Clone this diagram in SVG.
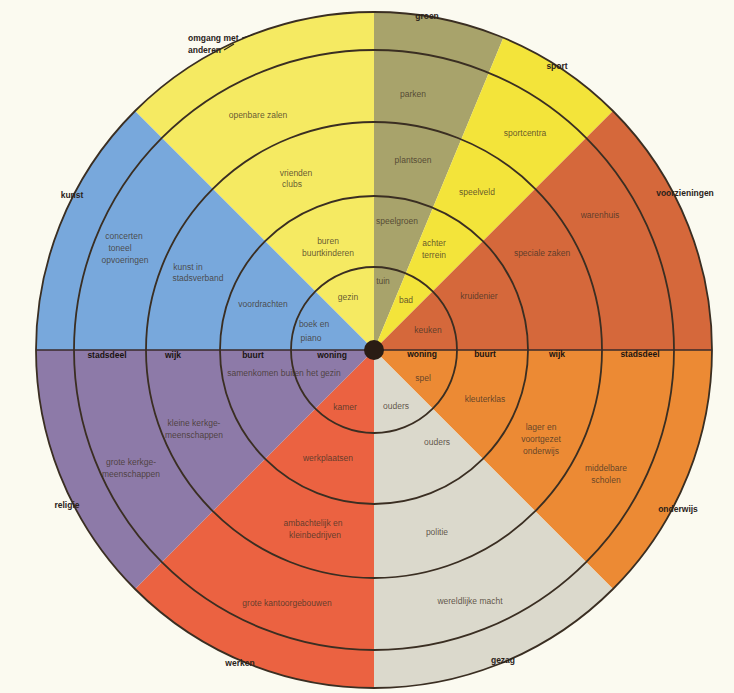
<svg xmlns="http://www.w3.org/2000/svg" width="734" height="693" viewBox="0 0 734 693">
<style>
.lbl{font-family:"Liberation Sans",Arial,sans-serif;font-size:8.5px;fill:#3e3226;fill-opacity:0.8;text-anchor:middle}
.ax{font-family:"Liberation Sans",Arial,sans-serif;font-size:8.5px;font-weight:bold;fill:#1a1410;text-anchor:middle}
.sec{font-family:"Liberation Sans",Arial,sans-serif;font-size:8.5px;font-weight:bold;fill:#2a221a;text-anchor:middle}
.ring{fill:none;stroke:#3a2e22;stroke-width:1.8}
</style>
<rect width="734" height="693" fill="#FBFAF0"/>
<g id="omgang">
<path d="M374,350 L135,111 A338,338 0 0 1 374,12 Z" fill="#F5EA62"/>
<text class="lbl" x="348" y="300">gezin</text>
<text class="lbl" x="328" y="244">buren</text>
<text class="lbl" x="328" y="256">buurtkinderen</text>
<text class="lbl" x="296" y="176">vrienden</text>
<text class="lbl" x="292" y="187">clubs</text>
<text class="lbl" x="258" y="118">openbare zalen</text>
</g>
<g id="groen">
<path d="M374,350 L374,12 A338,338 0 0 1 503.35,37.73 Z" fill="#A8A36B"/>
<text class="lbl" x="383" y="284">tuin</text>
<text class="lbl" x="397" y="224">speelgroen</text>
<text class="lbl" x="413" y="163">plantsoen</text>
<text class="lbl" x="413" y="97">parken</text>
</g>
<g id="sport">
<path d="M374,350 L503.35,37.73 A338,338 0 0 1 613,111 Z" fill="#F3E43A"/>
<text class="lbl" x="406" y="303">bad</text>
<text class="lbl" x="434" y="246">achter</text>
<text class="lbl" x="434" y="258">terrein</text>
<text class="lbl" x="477" y="195">speelveld</text>
<text class="lbl" x="525" y="136">sportcentra</text>
</g>
<g id="voorzieningen">
<path d="M374,350 L613,111 A338,338 0 0 1 712,350 Z" fill="#D5683B"/>
<text class="lbl" x="428" y="333">keuken</text>
<text class="lbl" x="479" y="299">kruidenier</text>
<text class="lbl" x="542" y="256">speciale zaken</text>
<text class="lbl" x="600" y="218">warenhuis</text>
</g>
<g id="onderwijs">
<path d="M374,350 L712,350 A338,338 0 0 1 613,589 Z" fill="#EC8A34"/>
<text class="lbl" x="423" y="381">spel</text>
<text class="lbl" x="485" y="402">kleuterklas</text>
<text class="lbl" x="541" y="430">lager en</text>
<text class="lbl" x="541" y="442">voortgezet</text>
<text class="lbl" x="541" y="454">onderwijs</text>
<text class="lbl" x="606" y="471">middelbare</text>
<text class="lbl" x="606" y="483">scholen</text>
</g>
<g id="gezag">
<path d="M374,350 L613,589 A338,338 0 0 1 374,688 Z" fill="#DBD9CC"/>
<text class="lbl" x="396" y="409">ouders</text>
<text class="lbl" x="437" y="445">ouders</text>
<text class="lbl" x="437" y="535">politie</text>
<text class="lbl" x="470" y="604">wereldlijke macht</text>
</g>
<g id="werken">
<path d="M374,350 L374,688 A338,338 0 0 1 135,589 Z" fill="#EB6241"/>
<text class="lbl" x="345" y="410">kamer</text>
<text class="lbl" x="328" y="461">werkplaatsen</text>
<text class="lbl" x="313" y="526">ambachtelijk en</text>
<text class="lbl" x="315" y="538">kleinbedrijven</text>
<text class="lbl" x="287" y="606">grote kantoorgebouwen</text>
</g>
<g id="religie">
<path d="M374,350 L135,589 A338,338 0 0 1 36,350 Z" fill="#8D7AA8"/>
<text class="lbl" x="284" y="376">samenkomen buiten het gezin</text>
<text class="lbl" x="194" y="426">kleine kerkge-</text>
<text class="lbl" x="194" y="438">meenschappen</text>
<text class="lbl" x="131" y="465">grote kerkge-</text>
<text class="lbl" x="131" y="477">meenschappen</text>
</g>
<g id="kunst">
<path d="M374,350 L36,350 A338,338 0 0 1 135,111 Z" fill="#78A8DC"/>
<text class="lbl" x="314" y="327">boek en</text>
<text class="lbl" x="311" y="341">piano</text>
<text class="lbl" x="263" y="307">voordrachten</text>
<text class="lbl" x="188" y="270">kunst in</text>
<text class="lbl" x="198" y="281">stadsverband</text>
<text class="lbl" x="124" y="239">concerten</text>
<text class="lbl" x="120" y="251">toneel</text>
<text class="lbl" x="125" y="263">opvoeringen</text>
</g>
<g id="connectors">
<circle class="ring" cx="374" cy="350" r="83"/>
<circle class="ring" cx="374" cy="350" r="154"/>
<circle class="ring" cx="374" cy="350" r="228"/>
<circle class="ring" cx="374" cy="350" r="300"/>
<circle class="ring" cx="374" cy="350" r="338"/>
<line x1="36" y1="350" x2="712" y2="350" stroke="#3a2a2a" stroke-width="1.5"/>
<line x1="242" y1="38" x2="252" y2="35" stroke="#2a221a" stroke-width="1.2"/>
<line x1="224" y1="50" x2="234" y2="44" stroke="#2a221a" stroke-width="1.2"/>
</g>
<g id="axis-labels">
<text class="ax" x="107" y="358">stadsdeel</text>
<text class="ax" x="173" y="358">wijk</text>
<text class="ax" x="253" y="358">buurt</text>
<text class="ax" x="332" y="358">woning</text>
<text class="ax" x="422" y="357">woning</text>
<text class="ax" x="485" y="357">buurt</text>
<text class="ax" x="557" y="357">wijk</text>
<text class="ax" x="640" y="357">stadsdeel</text>
</g>
<g id="sector-labels">
<text class="sec" x="188" y="41" text-anchor="start" style="text-anchor:start">omgang met</text>
<text class="sec" x="188" y="53" style="text-anchor:start">anderen</text>
<text class="sec" x="427" y="19">groen</text>
<text class="sec" x="557" y="69">sport</text>
<text class="sec" x="685" y="196">voorzieningen</text>
<text class="sec" x="678" y="512">onderwijs</text>
<text class="sec" x="503" y="663">gezag</text>
<text class="sec" x="240" y="666">werken</text>
<text class="sec" x="67" y="508">religie</text>
<text class="sec" x="72" y="198">kunst</text>
</g>
<circle id="centre" cx="374" cy="350" r="10" fill="#2a1c14"/>
</svg>
